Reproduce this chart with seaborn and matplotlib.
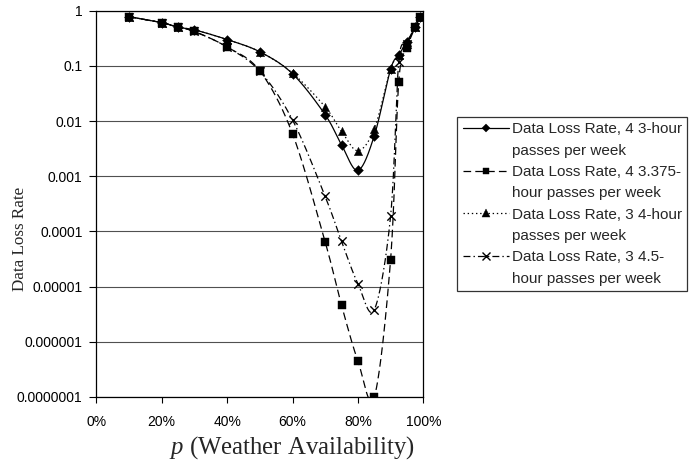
import numpy as np
import matplotlib
matplotlib.use("Agg")
import matplotlib.pyplot as plt
import seaborn as sns
from matplotlib.lines import Line2D
from matplotlib.ticker import FixedLocator, FixedFormatter, PercentFormatter

# Weather availability p (percent) and the data loss rate of each pass schedule
p_avail = [10, 20, 25, 30, 40, 50, 60, 70, 75, 80, 85, 90, 92.5, 95, 97.5, 99]
loss_4x3h = [0.78, 0.61, 0.50, 0.45, 0.30, 0.18, 0.072, 0.013, 0.0037, 0.00128,
             0.0054, 0.087, 0.158, 0.275, 0.50, 0.78]
loss_4x3375h = [0.78, 0.61, 0.50, 0.42, 0.22, 0.081, 0.0059, 6.4e-5, 4.6e-6, 4.5e-7,
                1.0e-7, 3.1e-5, 0.052, 0.21, 0.50, 0.78]
loss_3x4h = [0.78, 0.61, 0.50, 0.45, 0.30, 0.18, 0.074, 0.018, 0.0065, 0.0029,
             0.0072, 0.087, 0.158, 0.275, 0.50, 0.78]
loss_3x45h = [0.78, 0.61, 0.50, 0.42, 0.22, 0.080, 0.0105, 4.3e-4, 6.6e-5, 1.13e-5,
              3.8e-6, 1.9e-4, 0.12, 0.25, 0.50, 0.78]

series_labels = [
    ("Data Loss Rate, 4 3-hour", "passes per week"),
    ("Data Loss Rate, 4 3.375-", "hour passes per week"),
    ("Data Loss Rate, 3 4-hour", "passes per week"),
    ("Data Loss Rate, 3 4.5-", "hour passes per week"),
]

y_ticks = [1, 0.1, 0.01, 0.001, 0.0001, 0.00001, 0.000001, 0.0000001]
y_tick_labels = ["1", "0.1", "0.01", "0.001", "0.0001", "0.00001", "0.000001", "0.0000001"]
x_ticks = [0, 20, 40, 60, 80, 100]

sns.set_style("white")
plt.rcParams["font.family"] = ["Liberation Sans", "DejaVu Sans"]
plt.rcParams["mathtext.fontset"] = "custom"
plt.rcParams["mathtext.it"] = "Liberation Serif:italic"
plt.rcParams["mathtext.rm"] = "Liberation Serif"
plt.rcParams["lines.scale_dashes"] = False


def smooth_curve(x, y, n=30):
    """Bezier smoothing (Catmull-Rom tangents) in linear-x / log-y space."""
    P = np.column_stack([np.asarray(x, float), np.log10(np.asarray(y, float))])
    segs = []
    last = len(P) - 2
    for i in range(len(P) - 1):
        p0 = P[i - 1] if i > 0 else P[i]
        p1, p2 = P[i], P[i + 1]
        p3 = P[i + 2] if i + 2 < len(P) else P[i + 1]
        c1 = p1 + (p2 - p0) / 6.0
        c2 = p2 - (p3 - p1) / 6.0
        t = np.linspace(0, 1, n, endpoint=(i == last))[:, None]
        segs.append((1 - t) ** 3 * p1 + 3 * (1 - t) ** 2 * t * c1
                    + 3 * (1 - t) * t ** 2 * c2 + t ** 3 * p2)
    S = np.vstack(segs)
    return S[:, 0], 10 ** S[:, 1]


fig = plt.figure(figsize=(6.92, 4.65), dpi=100)
ax = fig.add_axes([96.3 / 692, 1 - 397 / 465, 327 / 692, 386.3 / 465])

styles = [
    dict(values=loss_4x3h, ls="-", marker="D", ms=5.0),
    dict(values=loss_4x3375h, ls=(0, (5.5, 3.0)), marker="s", ms=5.5),
    dict(values=loss_3x4h, ls=(0, (1.0, 2.0)), marker="^", ms=6.0),
    dict(values=loss_3x45h, ls=(0, (5.0, 2.2, 1.0, 2.2)), marker="x", ms=6.0),
]

for st in styles:
    sx, sy = smooth_curve(p_avail, st["values"])
    sns.lineplot(x=sx, y=sy, ax=ax, color="black", lw=0.9, linestyle=st["ls"],
                 sort=False, estimator=None, zorder=3)
    if st["marker"] == "x":
        sns.scatterplot(x=p_avail, y=st["values"], ax=ax, marker="x", s=st["ms"] ** 2,
                        color="black", linewidth=1.0, zorder=4)
    else:
        sns.scatterplot(x=p_avail, y=st["values"], ax=ax, marker=st["marker"],
                        s=st["ms"] ** 2, color="black", edgecolor="black",
                        linewidth=0.3, zorder=4)

ax.set_yscale("log")
ax.set_ylim(1e-7, 1)
ax.set_xlim(0, 100)
ax.yaxis.set_major_locator(FixedLocator(y_ticks))
ax.yaxis.set_major_formatter(FixedFormatter(y_tick_labels))
ax.yaxis.set_minor_locator(FixedLocator([]))
ax.xaxis.set_major_locator(FixedLocator(x_ticks))
ax.xaxis.set_major_formatter(PercentFormatter(100, decimals=0))

ax.grid(axis="y", color="#505050", lw=0.8)
ax.grid(axis="x", visible=False)
for sp in ax.spines.values():
    sp.set_color("black")
    sp.set_linewidth(0.9)

ax.tick_params(axis="y", direction="out", length=5, width=0.8, pad=5,
               labelsize=10, colors="black", left=True)
ax.tick_params(axis="x", direction="out", length=4, width=0.8, pad=9,
               labelsize=10, colors="black", bottom=True)

ax.set_ylabel("Data Loss Rate", family="Liberation Serif", fontsize=12.3)
ax.yaxis.set_label_coords(-(96.3 - 27.5) / 327, 0.41)
ax.set_xlabel(r"$p$ (Weather Availability)", family="Liberation Serif", fontsize=17.8,
              va="center")
ax.xaxis.set_label_coords((291.5 - 96.3) / 327, -0.132)

# Legend: marker handle sits on the first line of each wrapped label
handles, labels = [], []
blank = Line2D([], [], linestyle="none")
for st, (first, second) in zip(styles, series_labels):
    handles.append(Line2D([0], [0], color="black", lw=0.9, linestyle=st["ls"],
                          marker=st["marker"], ms=st["ms"] - 0.5,
                          mew=1.0 if st["marker"] == "x" else 0.3))
    labels.append(first)
    handles.append(blank)
    labels.append(second)

leg = fig.legend(handles, labels, loc="upper left",
                 bbox_to_anchor=(457.3 / 692, 1 - 117 / 465),
                 frameon=True, fancybox=False, shadow=False, fontsize=11,
                 handlelength=3.05, handletextpad=0.15, borderpad=0.35,
                 labelspacing=0.48, borderaxespad=0)
leg.get_frame().set_edgecolor("black")
leg.get_frame().set_linewidth(0.9)

fig.savefig("out.png", dpi=100, facecolor="white")
